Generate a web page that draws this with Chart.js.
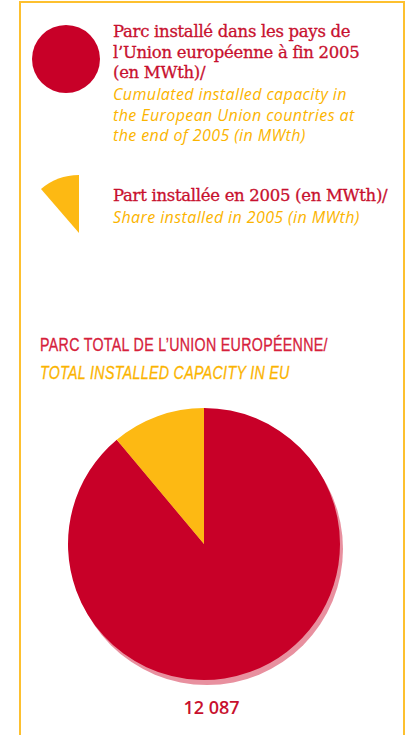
<!DOCTYPE html>
<html>
<head>
<meta charset="utf-8">
<script src="https://cdn.jsdelivr.net/npm/chart.js@4.4.0/dist/chart.umd.min.js"></script>
<style>
  html, body { margin: 0; padding: 0; background: #fff; }
  body { width: 405px; height: 735px; position: relative; overflow: hidden; }
  .frame {
    position: absolute; left: 19px; top: 1px; width: 382px; height: 760px;
    border: 2px solid #fdc02f; border-bottom: none;
  }
  .txt { position: absolute; white-space: nowrap; }
  .fr { font-family: "DejaVu Serif", serif; font-size: 16.5px; line-height: 20.7px; color: #c8102e; letter-spacing: -0.3px; -webkit-text-stroke: 0.3px #c8102e; }
  .en { font-family: "Open Sans", sans-serif; font-style: italic; font-size: 16px; line-height: 20.7px; color: #fbb400; letter-spacing: 0.4px; }
  .title { font-family: "Liberation Sans", sans-serif; font-size: 18px; line-height: 28px; transform-origin: 0 0; transform: scaleX(0.79); letter-spacing: 0.4px; }
  .dot { position: absolute; left: 32px; top: 25px; width: 68px; height: 68px; border-radius: 50%; background: #c80028; }
  #total { position: absolute; left: 0; width: 423px; top: 695px; text-align: center;
    font-family: "Open Sans", sans-serif; font-weight: 600; font-size: 18px; color: #c8102e; }
  #wrap { position: absolute; left: 0; top: 400px; width: 405px; height: 290px; }
</style>
</head>
<body>
<div class="frame"></div>

<div class="dot"></div>
<div class="txt fr" style="left:113px; top:22px;">Parc installé dans les pays de<br>l’Union européenne à fin 2005<br>(en MWth)/</div>
<div class="txt en" style="left:113px; top:84px;">Cumulated installed capacity in<br>the European Union countries at<br>the end of 2005 (in MWth)</div>

<svg style="position:absolute;left:0;top:0" width="120" height="250">
  <path d="M79 233 L79 175 A58 58 0 0 0 41 189 Z" fill="#fdb913"/>
</svg>
<div class="txt fr" style="left:113px; top:186px;">Part installée en 2005 (en MWth)/</div>
<div class="txt en" style="left:113px; top:207px;">Share installed in 2005 (in MWth)</div>

<div class="txt title" style="left:40px; top:331px; color:#d6213b; -webkit-text-stroke:0.3px #d6213b;">PARC TOTAL DE L’UNION EUROPÉENNE/</div>
<div class="txt title" style="left:40px; top:359px; color:#fbb400; font-style:italic; -webkit-text-stroke:0.3px #fbb400;">TOTAL INSTALLED CAPACITY IN EU</div>

<div id="wrap"><canvas id="pie"></canvas></div>
<div id="total"></div>

<script>
  // EU solar thermal park, end 2005 (MWth)
  const categories = ['Parc installé avant 2005', 'Part installée en 2005'];
  const values = [10747, 1340];
  const colors = ['#c80028', '#fdb913'];
  const totalLabel = '12 087';

  document.getElementById('total').textContent = totalLabel;

  // flat pink drop shadow under the whole disc
  const discShadow = {
    id: 'discShadow',
    beforeDatasetsDraw(chart) {
      const arc = chart.getDatasetMeta(0).data[0];
      if (!arc) return;
      const ctx = chart.ctx;
      ctx.save();
      ctx.fillStyle = '#e8909f';
      ctx.beginPath();
      ctx.arc(arc.x + 3, arc.y + 5, arc.outerRadius, 0, Math.PI * 2);
      ctx.fill();
      ctx.restore();
    }
  };

  new Chart(document.getElementById('pie'), {
    type: 'pie',
    data: {
      labels: categories,
      datasets: [{
        data: values,
        backgroundColor: colors,
        borderWidth: 0,
      }]
    },
    options: {
      responsive: true,
      maintainAspectRatio: false,
      animation: false,
      layout: { padding: { left: 68, right: 65, top: 8, bottom: 10 } },
      plugins: {
        legend: { display: false },
        tooltip: { enabled: false }
      }
    },
    plugins: [discShadow]
  });
</script>
</body>
</html>
